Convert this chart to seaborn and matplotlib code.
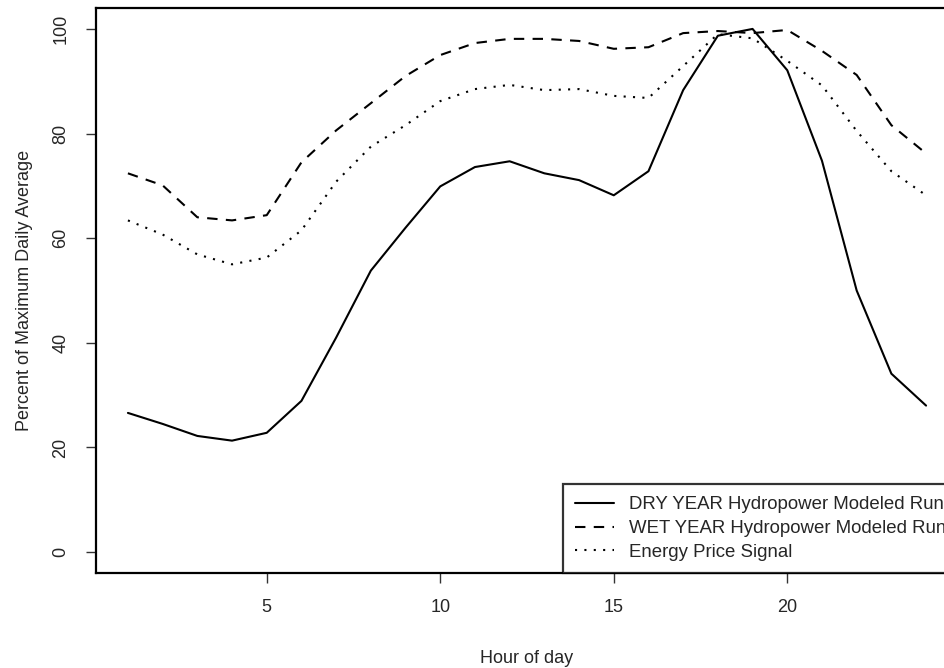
import numpy as np
import pandas as pd
import seaborn as sns
import matplotlib
matplotlib.use("Agg")
import matplotlib.pyplot as plt

# hourly profiles (percent of max daily average)
hours = list(range(1, 25))
dry_year = [26.6, 24.5, 22.2, 21.3, 22.8, 28.9, 41.0, 53.8, 62.0, 69.9, 73.6, 74.7,
            72.4, 71.1, 68.2, 72.8, 88.3, 98.7, 100.0, 92.1, 74.8, 50.0, 34.1, 28.0]
wet_year = [72.4, 70.1, 64.0, 63.4, 64.4, 74.5, 80.6, 85.8, 91.0, 95.0, 97.3, 98.1,
            98.1, 97.7, 96.2, 96.5, 99.2, 99.6, 99.2, 99.8, 95.8, 91.2, 81.6, 76.2]
price_signal = [63.4, 60.7, 56.9, 55.0, 56.3, 61.5, 70.8, 77.5, 81.6, 86.2, 88.5, 89.3,
                88.3, 88.5, 87.2, 86.8, 92.9, 99.0, 98.2, 93.9, 89.2, 80.5, 72.8, 68.2]
series_names = ["DRY YEAR Hydropower Modeled Run",
                "WET YEAR Hydropower Modeled Run",
                "Energy Price Signal"]
x_ticks = [5, 10, 15, 20]
y_ticks = [0, 20, 40, 60, 80, 100]


def main():
    df = pd.DataFrame({
        "hour": hours * 3,
        "value": dry_year + wet_year + price_signal,
        "series": [series_names[0]] * 24 + [series_names[1]] * 24 + [series_names[2]] * 24,
    })

    sns.set_style("white")
    plt.rcParams["font.family"] = ["Liberation Sans", "DejaVu Sans"]

    fig = plt.figure(figsize=(9.45, 6.68), dpi=100)
    # the original is cropped on the right, so the axes run past the canvas edge
    ax = fig.add_axes([96 / 945, 1 - 573 / 668, (958 - 96) / 945, (573 - 8) / 668])

    dashes = {series_names[0]: "", series_names[1]: (5, 4), series_names[2]: (1, 3.5)}
    sns.lineplot(data=df, x="hour", y="value", style="series", style_order=series_names,
                 dashes=dashes, color="black", linewidth=1.5, ax=ax)

    ax.set_xlim(0.08, 24.92)
    ax.set_ylim(-4, 104)
    ax.set_xticks(x_ticks)
    ax.set_yticks(y_ticks)
    ax.set_xlabel("Hour of day", fontsize=13, labelpad=24)
    ax.set_ylabel("Percent of Maximum Daily Average", fontsize=13, labelpad=14)
    ax.tick_params(axis="both", direction="out", length=7, width=1, color="#333333",
                   labelsize=13, pad=12, left=True, bottom=True)
    for lbl in ax.get_yticklabels():
        lbl.set_rotation(90)
        lbl.set_va("center")
    for sp in ax.spines.values():
        sp.set_color("black")
        sp.set_linewidth(1.6)

    handles, labels = ax.get_legend_handles_labels()
    leg = ax.legend(handles, labels, loc="lower right", fontsize=13.4, frameon=True,
                    fancybox=False, borderaxespad=0, handlelength=2.1,
                    handletextpad=0.8, borderpad=0.65, labelspacing=0.36)
    leg.get_frame().set_edgecolor("black")
    leg.get_frame().set_linewidth(1.6)

    fig.savefig("out.png", dpi=100)


if __name__ == "__main__":
    main()
